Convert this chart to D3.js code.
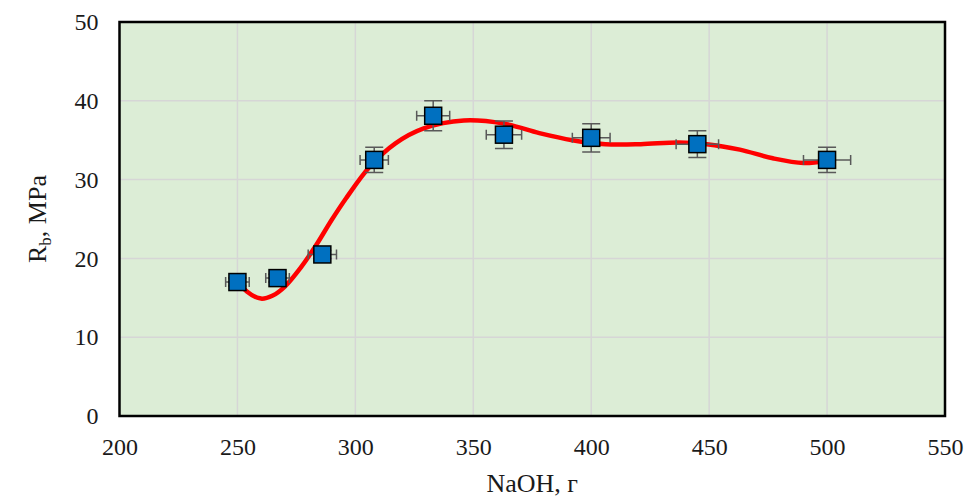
<!DOCTYPE html>
<html>
<head>
<meta charset="utf-8">
<script src="https://cdn.jsdelivr.net/npm/d3@7"></script>
<style>
  body { margin: 0; background: #fff; }
  svg { display: block; font-family: "Liberation Serif", "Times New Roman", serif; }
</style>
</head>
<body>
<svg id="chart" width="974" height="497"></svg>
<script>
// measured points (NaOH, г -> Rb, MPa) with error bars
const naoh = [250, 267, 286, 308, 333, 363, 400, 445, 500];
const strength = [17.0, 17.5, 20.5, 32.5, 38.1, 35.7, 35.3, 34.5, 32.5];
const errX = [5, 5, 6, 6, 7, 7.5, 8, 9, 10];
const errY = [0.5, 0.5, 0.5, 1.6, 1.9, 1.75, 1.8, 1.7, 1.6];

// smoothed trend line
const trendX = [250, 254, 260, 265, 270, 277, 283, 290, 296, 306, 317, 329, 346, 363, 378, 392, 406, 421, 437, 449, 463, 477, 490, 500];
const trendY = [17.3, 15.8, 14.9, 15.3, 16.4, 18.9, 21.5, 24.9, 27.6, 31.6, 34.6, 36.5, 37.5, 37.1, 35.9, 35.0, 34.5, 34.5, 34.7, 34.5, 33.8, 32.7, 32.1, 32.4];

const xTicks = [200, 250, 300, 350, 400, 450, 500, 550];
const yTicks = [0, 10, 20, 30, 40, 50];

const margin = { top: 22, right: 29, bottom: 81, left: 119.5 };
const width = 974, height = 497;

const svg = d3.select("#chart");
const x = d3.scaleLinear().domain([200, 550]).range([margin.left, width - margin.right]);
const y = d3.scaleLinear().domain([0, 50]).range([height - margin.bottom, margin.top]);

// plot background
svg.append("rect")
  .attr("x", x(200)).attr("y", y(50))
  .attr("width", x(550) - x(200)).attr("height", y(0) - y(50))
  .attr("fill", "#dcedd6");

// grid
const grid = svg.append("g").attr("stroke", "#d6d6d6").attr("stroke-width", 1.5);
grid.selectAll(".gx").data(xTicks.slice(1, -1)).enter().append("line")
  .attr("x1", (d) => x(d)).attr("x2", (d) => x(d))
  .attr("y1", y(0)).attr("y2", y(50));
grid.selectAll(".gy").data(yTicks.slice(1, -1)).enter().append("line")
  .attr("x1", x(200)).attr("x2", x(550))
  .attr("y1", (d) => y(d)).attr("y2", (d) => y(d));

// axes, labels only
const xAxis = svg.append("g")
  .attr("transform", `translate(0,${y(0)})`)
  .call(d3.axisBottom(x).tickValues(xTicks).tickSize(0).tickPadding(22));
const yAxis = svg.append("g")
  .attr("transform", `translate(${x(200)},0)`)
  .call(d3.axisLeft(y).tickValues(yTicks).tickSize(0).tickPadding(21));
[xAxis, yAxis].forEach((g) => {
  g.select(".domain").remove();
  g.selectAll("text")
    .attr("font-family", "Liberation Serif, Times New Roman, serif")
    .attr("font-size", 24)
    .attr("fill", "#1a1a1a");
});

// trend curve
const line = d3.line()
  .x((d) => x(d[0]))
  .y((d) => y(d[1]))
  .curve(d3.curveCatmullRom.alpha(0.5));
svg.append("path")
  .datum(d3.zip(trendX, trendY))
  .attr("d", line)
  .attr("fill", "none")
  .attr("stroke", "#ff0000")
  .attr("stroke-width", 4.5)
  .attr("stroke-linecap", "round");

// error bars
const pts = naoh.map((v, i) => ({ x: v, y: strength[i], ex: errX[i], ey: errY[i] }));
const eb = svg.append("g").attr("stroke", "#595959").attr("stroke-width", 1.5).attr("fill", "none");
const cap = 5;
pts.forEach((p) => {
  const cx = x(p.x), cy = y(p.y);
  const x0 = x(p.x - p.ex), x1 = x(p.x + p.ex);
  const y0 = y(p.y - p.ey), y1 = y(p.y + p.ey);
  eb.append("path").attr("d",
    `M${x0},${cy}H${x1}M${x0},${cy - cap}V${cy + cap}M${x1},${cy - cap}V${cy + cap}` +
    `M${cx},${y0}V${y1}M${cx - cap * 1.8},${y0}H${cx + cap * 1.8}M${cx - cap * 1.8},${y1}H${cx + cap * 1.8}`);
});

// markers
const ms = 17;
svg.append("g").selectAll("rect").data(pts).enter().append("rect")
  .attr("x", (d) => x(d.x) - ms / 2)
  .attr("y", (d) => y(d.y) - ms / 2)
  .attr("width", ms).attr("height", ms)
  .attr("fill", "#0070c0")
  .attr("stroke", "#000")
  .attr("stroke-width", 1.5);

// frame
svg.append("rect")
  .attr("x", x(200)).attr("y", y(50))
  .attr("width", x(550) - x(200)).attr("height", y(0) - y(50))
  .attr("fill", "none")
  .attr("stroke", "#000")
  .attr("stroke-width", 2.5);

// titles
svg.append("text")
  .attr("x", (x(200) + x(550)) / 2)
  .attr("y", 492)
  .attr("text-anchor", "middle")
  .attr("font-size", 26)
  .attr("fill", "#1a1a1a")
  .text("NaOH, г");

const yt = svg.append("text")
  .attr("transform", `translate(46,${(y(0) + y(50)) / 2}) rotate(-90)`)
  .attr("text-anchor", "middle")
  .attr("font-size", 26)
  .attr("fill", "#1a1a1a");
yt.append("tspan").text("R");
yt.append("tspan").attr("font-size", 17).attr("dy", 5).text("b");
yt.append("tspan").attr("dy", -5).text(", MPa");
</script>
</body>
</html>
